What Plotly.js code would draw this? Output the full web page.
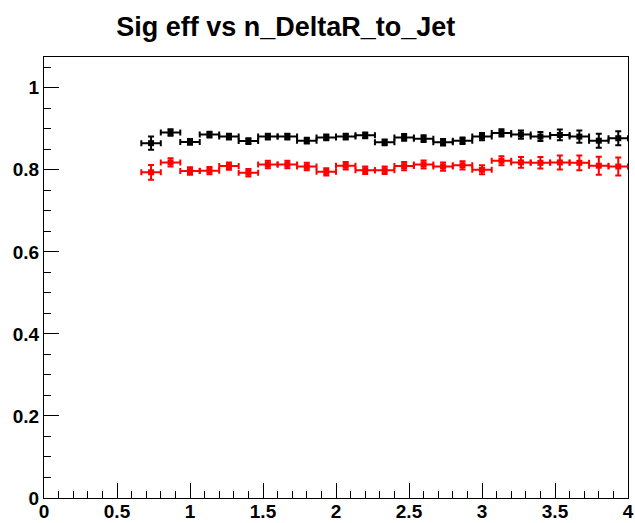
<!DOCTYPE html>
<html>
<head>
<meta charset="utf-8">
<script src="https://cdn.plot.ly/plotly-3.0.1.min.js"></script>
<style>
  html, body { margin: 0; padding: 0; background: #fff; }
  #plot { width: 635px; height: 523px; }
</style>
</head>
<body>
<div id="plot"></div>
<script>
// Bin centres of the n_DeltaR_to_Jet histogram (30 bins over 0..4, filled from 0.667)
const binCenters = [0.7333, 0.8667, 1.0, 1.1333, 1.2667, 1.4, 1.5333, 1.6667, 1.8, 1.9333,
                    2.0667, 2.2, 2.3333, 2.4667, 2.6, 2.7333, 2.8667, 3.0, 3.1333, 3.2667,
                    3.4, 3.5333, 3.6667, 3.8, 3.9333];
const binHalfWidth = 0.0667;

// Signal efficiency, black series
const effBlack = [0.865, 0.891, 0.868, 0.886, 0.881, 0.870, 0.881, 0.881, 0.871, 0.879,
                  0.881, 0.884, 0.867, 0.879, 0.876, 0.867, 0.871, 0.881, 0.890, 0.886,
                  0.881, 0.885, 0.881, 0.871, 0.877];
const errBlack = [0.016, 0.008, 0.007, 0.007, 0.007, 0.007, 0.007, 0.007, 0.007, 0.007,
                  0.007, 0.007, 0.007, 0.008, 0.008, 0.008, 0.008, 0.009, 0.009, 0.010,
                  0.011, 0.013, 0.015, 0.017, 0.017];

// Signal efficiency, red series
const effRed = [0.794, 0.818, 0.797, 0.798, 0.809, 0.793, 0.813, 0.813, 0.808, 0.795,
                0.810, 0.799, 0.799, 0.809, 0.813, 0.808, 0.811, 0.800, 0.822, 0.818,
                0.817, 0.818, 0.817, 0.810, 0.808];
const errRed = [0.018, 0.010, 0.009, 0.009, 0.009, 0.009, 0.009, 0.009, 0.009, 0.009,
                0.009, 0.009, 0.009, 0.010, 0.010, 0.010, 0.010, 0.011, 0.011, 0.013,
                0.014, 0.017, 0.018, 0.022, 0.022];

const titleText = 'Sig eff vs n_DeltaR_to_Jet';

function series(yVals, yErr, color) {
  return {
    type: 'scatter',
    mode: 'markers',
    x: binCenters,
    y: yVals,
    marker: { symbol: 'square', size: 6, color: color },
    error_x: { type: 'constant', value: binHalfWidth, color: color, thickness: 2, width: 3 },
    error_y: { type: 'data', array: yErr, visible: true, color: color, thickness: 2, width: 3 },
    hoverinfo: 'x+y',
    showlegend: false
  };
}

const data = [
  series(effBlack, errBlack, '#000000'),
  series(effRed, errRed, '#ff0000')
];

const tickFont = { family: 'Liberation Sans, Arial, sans-serif', size: 19, weight: 'bold', color: '#000' };

const layout = {
  width: 635,
  height: 523,
  margin: { l: 44, r: 7, t: 57, b: 25, pad: 0 },
  paper_bgcolor: '#ffffff',
  plot_bgcolor: '#ffffff',
  title: {
    text: titleText,
    font: { family: 'Liberation Sans, Arial, sans-serif', size: 27, weight: 'bold', color: '#000' },
    x: 0.45, xref: 'container', xanchor: 'center',
    y: 0.95, yref: 'container', yanchor: 'middle'
  },
  xaxis: {
    range: [0, 4],
    dtick: 0.5,
    tick0: 0,
    ticks: 'inside',
    ticklen: 15,
    tickwidth: 1,
    tickcolor: '#000',
    ticklabelstandoff: -4,
    minor: { dtick: 0.1, ticks: 'inside', ticklen: 7, tickwidth: 1, tickcolor: '#000' },
    showline: true,
    linecolor: '#000',
    linewidth: 1,
    mirror: true,
    showgrid: false,
    zeroline: false,
    tickfont: tickFont
  },
  yaxis: {
    range: [0, 1.075],
    dtick: 0.2,
    tick0: 0,
    ticks: 'inside',
    ticklen: 15,
    tickwidth: 1,
    tickcolor: '#000',
    minor: { dtick: 0.05, ticks: 'inside', ticklen: 7, tickwidth: 1, tickcolor: '#000' },
    showline: true,
    linecolor: '#000',
    linewidth: 1,
    mirror: true,
    showgrid: false,
    zeroline: false,
    tickfont: tickFont
  }
};

Plotly.newPlot('plot', data, layout, { displayModeBar: false, staticPlot: true });
</script>
</body>
</html>
